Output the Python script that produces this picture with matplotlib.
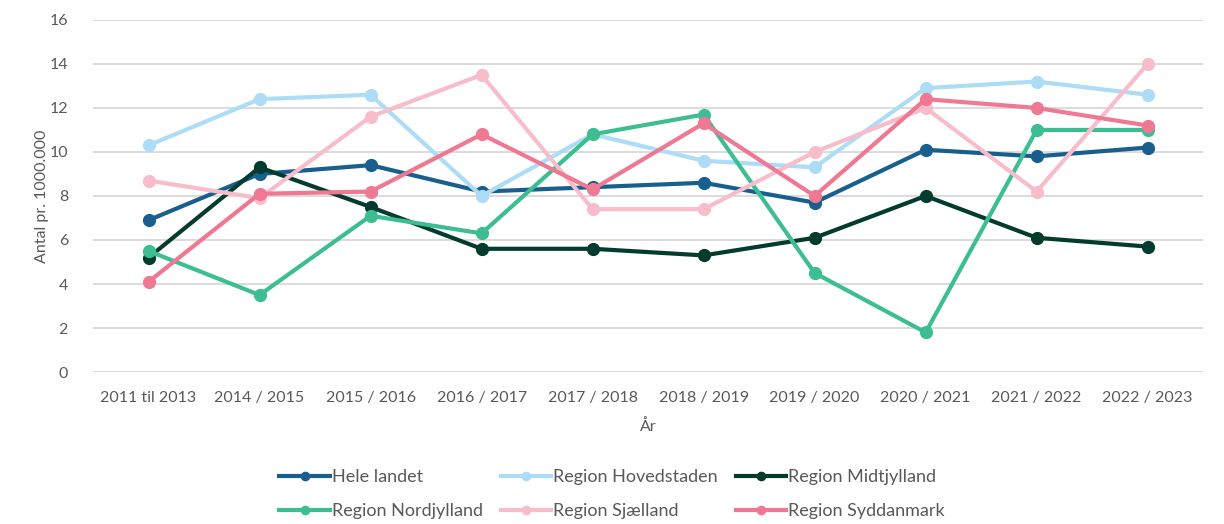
import matplotlib.pyplot as plt

plt.rcParams['font.family'] = ['Lato', 'DejaVu Sans']

years = ["2011 til 2013", "2014 / 2015", "2015 / 2016", "2016 / 2017", "2017 / 2018",
         "2018 / 2019", "2019 / 2020", "2020 / 2021", "2021 / 2022", "2022 / 2023"]

hele_landet = [6.9, 9.0, 9.4, 8.2, 8.4, 8.6, 7.7, 10.1, 9.8, 10.2]
hovedstaden = [10.3, 12.4, 12.6, 8.0, 10.8, 9.6, 9.3, 12.9, 13.2, 12.6]
midtjylland = [5.2, 9.3, 7.5, 5.6, 5.6, 5.3, 6.1, 8.0, 6.1, 5.7]
nordjylland = [5.5, 3.5, 7.1, 6.3, 10.8, 11.7, 4.5, 1.8, 11.0, 11.0]
sjaelland = [8.7, 7.9, 11.6, 13.5, 7.4, 7.4, 10.0, 12.0, 8.2, 14.0]
syddanmark = [4.1, 8.1, 8.2, 10.8, 8.3, 11.3, 8.0, 12.4, 12.0, 11.2]

series = [
    ("Hele landet", hele_landet, "#195f8e"),
    ("Region Hovedstaden", hovedstaden, "#addcf6"),
    ("Region Midtjylland", midtjylland, "#033b2f"),
    ("Region Nordjylland", nordjylland, "#3dbe92"),
    ("Region Sjælland", sjaelland, "#f7bdcb"),
    ("Region Syddanmark", syddanmark, "#ef7893"),
]

fig = plt.figure(figsize=(12.24, 5.24), dpi=100)
ax = fig.add_axes([0.076, 0.29, 0.907, 0.672])

x = range(len(years))
lines = []
for name, vals, color in series:
    ln, = ax.plot(x, vals, color=color, lw=3, marker="o", ms=8.5, label=name,
                  solid_joinstyle="round", zorder=3)
    lines.append(ln)

ax.set_xlim(-0.5, len(years) - 0.5)
ax.set_ylim(0, 16)
ax.set_yticks(range(0, 17, 2))
ax.set_xticks(list(x))
ax.set_xticklabels(years)
ax.grid(axis="y", color="#d9d9d9", lw=1.3)
ax.set_axisbelow(True)
for s in ax.spines.values():
    s.set_visible(False)
ax.tick_params(length=0, labelsize=11.5, labelcolor="#595959")
ax.tick_params(axis="x", pad=14)
ax.tick_params(axis="y", pad=18)

ax.set_xlabel("År", fontsize=11.5, color="#595959", labelpad=10)
ax.set_ylabel("Antal pr. 1000.000", fontsize=11.5, color="#595959", labelpad=0)

# legend fills column by column, so reorder to read row by row
order = [0, 3, 1, 4, 2, 5]
fig.legend([lines[i] for i in order], [series[i][0] for i in order],
           loc="center", bbox_to_anchor=(0.5, 0.057), ncol=3, frameon=False,
           fontsize=13, handlelength=2.8, handletextpad=0.1, columnspacing=1.0,
           labelcolor="#595959", labelspacing=1.0, markerscale=0.7)

fig.savefig("out.png", dpi=100)
